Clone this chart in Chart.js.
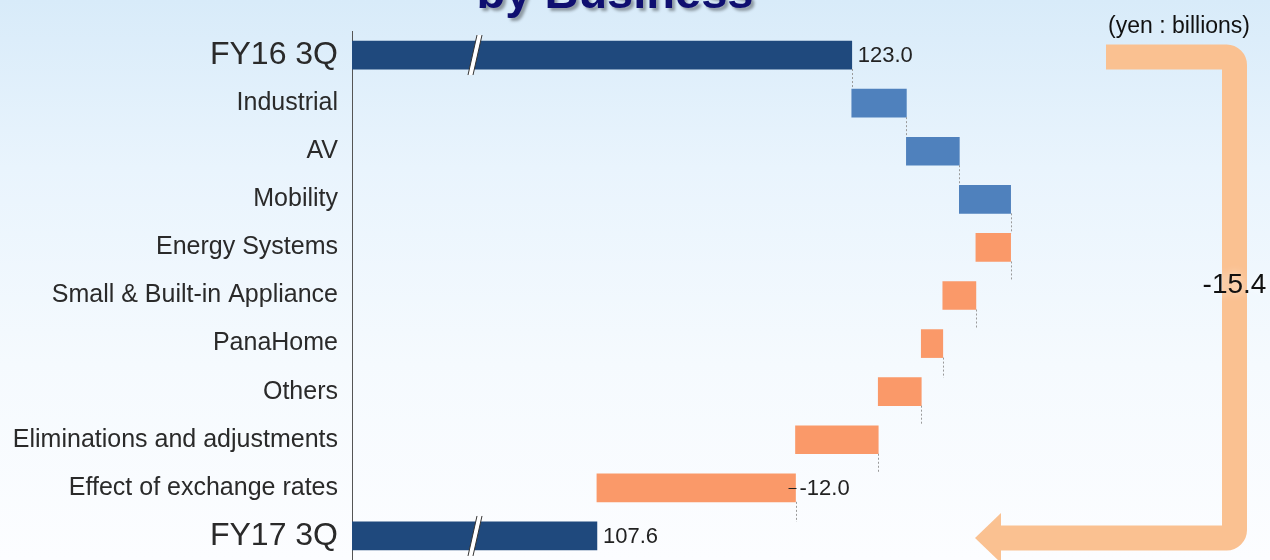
<!DOCTYPE html>
<html>
<head>
<meta charset="utf-8">
<title>Operating Profit by Business</title>
<script src="https://cdn.jsdelivr.net/npm/chart.js"></script>
<style>
    html, body { margin: 0; padding: 0; overflow: hidden; }
    body {
        width: 1270px; height: 560px;
        background: linear-gradient(to bottom, #d8ebf9 0%, #e9f4fd 30%, #f5fafe 65%, #fcfdff 100%);
    }
    #wrap { position: relative; width: 1270px; height: 560px; }
</style>
</head>
<body>
<div id="wrap"><canvas id="bridge"></canvas></div>
<script>
    // bridge from FY16 3Q to FY17 3Q (yen : billions)
    const categories = ['FY16 3Q', 'Industrial', 'AV', 'Mobility', 'Energy Systems',
        'Small & Built-in Appliance', 'PanaHome', 'Others',
        'Eliminations and adjustments', 'Effect of exchange rates', 'FY17 3Q'];
    const startValue = 123.0;
    const endValue = 107.6;
    const changes = [3.3, 3.2, 3.1, -2.1, -2.0, -1.3, -2.6, -5.0, -12.0];
    const labelledChange = 'Effect of exchange rates';
    const axisMin = 92.8;   // axis is broken, totals start at the left edge
    const axisMax = 138;

    const FONT = '"Liberation Sans", Arial, sans-serif';
    const NAVY = '#1F497D', BLUE = '#4F81BD', ORANGE = '#FA9969', ARROW = '#FAC191';

    // floating [from, to] ranges for each bar
    let ranges = [[axisMin, startValue]];
    let colors = [NAVY];
    let level = startValue;
    changes.forEach(c => {
        ranges.push([level, +(level + c).toFixed(1)]);
        colors.push(c >= 0 ? BLUE : ORANGE);
        level = +(level + c).toFixed(1);
    });
    ranges.push([axisMin, endValue]);
    colors.push(NAVY);

    const extras = {
        id: 'extras',
        afterDatasetsDraw(chart) {
            const ctx = chart.ctx;
            const ys = chart.scales.y;
            const bars = chart.getDatasetMeta(0).data;
            ctx.save();

            // dotted connectors between consecutive bars
            ctx.strokeStyle = '#9a9a9a';
            ctx.lineWidth = 1;
            ctx.setLineDash([2, 2]);
            for (let i = 0; i < bars.length - 1; i++) {
                const a = bars[i], b = bars[i + 1];
                const x = Math.round(a.x) + 0.5;
                ctx.beginPath();
                ctx.moveTo(x, a.y + a.height / 2);
                ctx.lineTo(x, b.y - b.height / 2);
                ctx.stroke();
            }
            ctx.setLineDash([]);

            // axis-break marks on the two total bars
            [0, bars.length - 1].forEach(i => {
                const b = bars[i];
                const cx = chart.chartArea.left + 123;
                const top = b.y - b.height / 2 - 6, bot = b.y + b.height / 2 + 6;
                ctx.beginPath();
                ctx.moveTo(cx + 2, top); ctx.lineTo(cx + 7, top);
                ctx.lineTo(cx - 2, bot); ctx.lineTo(cx - 7, bot);
                ctx.closePath();
                ctx.fillStyle = '#ffffff';
                ctx.fill();
                ctx.strokeStyle = '#333333';
                ctx.lineWidth = 1;
                ctx.beginPath();
                ctx.moveTo(cx + 2, top); ctx.lineTo(cx - 7, bot);
                ctx.moveTo(cx + 7, top); ctx.lineTo(cx - 2, bot);
                ctx.stroke();
            });

            // value labels
            ctx.font = '22px ' + FONT;
            ctx.fillStyle = '#222222';
            ctx.textBaseline = 'middle';
            ctx.textAlign = 'left';
            const first = bars[0], last = bars[bars.length - 1];
            ctx.fillText(startValue.toFixed(1), first.x + 6, first.y + 1);
            ctx.fillText(endValue.toFixed(1), last.x + 6, last.y + 1);
            const k = categories.indexOf(labelledChange);
            const kb = bars[k];
            const leftEnd = Math.max(kb.x, kb.base);
            ctx.strokeStyle = '#222222';
            ctx.beginPath();
            ctx.moveTo(leftEnd - 7, Math.round(kb.y) + 0.5);
            ctx.lineTo(leftEnd + 1, Math.round(kb.y) + 0.5);
            ctx.stroke();
            ctx.fillText(changes[k - 1].toFixed(1), leftEnd + 4, kb.y + 1);

            // total-change arrow on the right
            const y0 = ys.getPixelForValue(0) + 2;
            const y1 = ys.getPixelForValue(categories.length - 1) + 2;
            const vx = 1234.5;
            ctx.strokeStyle = ARROW;
            ctx.lineWidth = 25;
            ctx.lineCap = 'butt';
            ctx.beginPath();
            ctx.moveTo(1106, y0);
            ctx.arcTo(vx, y0, vx, y1, 8);
            ctx.arcTo(vx, y1, 1000, y1, 8);
            ctx.lineTo(1000, y1);
            ctx.stroke();
            ctx.fillStyle = ARROW;
            ctx.beginPath();
            ctx.moveTo(975, y1);
            ctx.lineTo(1001, y1 - 25);
            ctx.lineTo(1001, y1 + 25);
            ctx.closePath();
            ctx.fill();

            ctx.font = '28px ' + FONT;
            ctx.textAlign = 'center';
            ctx.fillStyle = '#111111';
            ctx.shadowColor = 'rgba(255,255,255,0.9)';
            ctx.shadowBlur = 8;
            ctx.fillText((endValue - startValue).toFixed(1), vx, (y0 + y1) / 2 - 12);
            ctx.shadowBlur = 0;

            // unit note
            ctx.font = '23px ' + FONT;
            ctx.textAlign = 'right';
            ctx.textBaseline = 'alphabetic';
            ctx.fillText('(yen : billions)', 1250, 33);

            // heading, mostly above the visible area
            ctx.font = 'bold 47px ' + FONT;
            ctx.textAlign = 'center';
            ctx.fillStyle = '#0f0f70';
            ctx.shadowColor = 'rgba(0,0,0,0.35)';
            ctx.shadowOffsetX = 3;
            ctx.shadowOffsetY = 3;
            ctx.shadowBlur = 3;
            ctx.fillText('by Business', 615, 8);

            ctx.restore();
        }
    };

    new Chart(document.getElementById('bridge'), {
        type: 'bar',
        data: {
            labels: categories,
            datasets: [{
                data: ranges,
                backgroundColor: colors,
                borderWidth: 0,
                borderSkipped: false,
                barThickness: 28
            }]
        },
        options: {
            indexAxis: 'y',
            responsive: true,
            maintainAspectRatio: false,
            animation: false,
            layout: { padding: { top: 31, right: 170, bottom: 0, left: 0 } },
            plugins: {
                legend: { display: false },
                tooltip: { enabled: false }
            },
            scales: {
                x: {
                    display: false,
                    min: axisMin,
                    max: axisMax
                },
                y: {
                    afterFit(scale) {
                        scale.width = 352;
                        // rows fill the full height, no room kept for label overhang
                        scale.paddingTop = 0;
                        scale.paddingBottom = 0;
                    },
                    grid: { display: false, drawTicks: false },
                    border: { display: true, color: '#555555', width: 1 },
                    ticks: {
                        autoSkip: false,
                        padding: 14,
                        color: '#2a2a2a',
                        font: (c) => ({
                            family: FONT,
                            size: (c.index === 0 || c.index === categories.length - 1) ? 32 : 25
                        })
                    }
                }
            }
        },
        plugins: [extras]
    });
</script>
</body>
</html>
